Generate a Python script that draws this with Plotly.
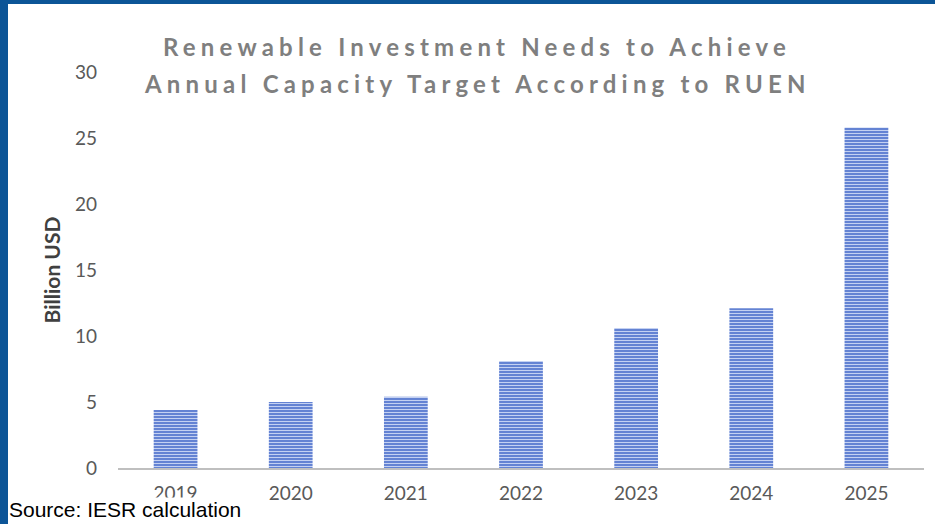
import plotly.graph_objects as go

years = ["2019", "2020", "2021", "2022", "2023", "2024", "2025"]
investment = [4.4, 5.0, 5.4, 8.1, 10.6, 12.1, 25.8]
y_ticks = [0, 5, 10, 15, 20, 25, 30]
title_lines = ["Renewable Investment Needs to Achieve",
               "Annual Capacity Target According to RUEN"]
source_text = "Source: IESR calculation"

W, H = 935, 524
L, R, T, B = 118, 11, 72, 56
pw, ph = W - L - R, H - T - B

def px_x(px):
    return (px - L) / pw

def px_y(py):
    return (H - B - py) / ph

fig = go.Figure()
fig.add_trace(go.Bar(
    x=years, y=investment,
    marker=dict(
        color="#6483d3",
        line=dict(width=0),
        pattern=dict(shape="-", fgcolor="#c4d1f2", bgcolor="#6483d3",
                     size=3, solidity=0.35, fillmode="replace"),
    ),
    hoverinfo="skip",
))

annotations = []
for txt, yc in zip(title_lines, [47, 83]):
    annotations.append(dict(
        text='<span style="letter-spacing:5.2px">%s</span>' % txt,
        xref="paper", yref="paper",
        x=px_x(477), y=px_y(yc), xanchor="center", yanchor="middle",
        showarrow=False, align="center",
        font=dict(family="Lato", size=24, color="#7f7f7f", weight="bold")))
annotations.append(dict(
    text=source_text, xref="paper", yref="paper",
    x=px_x(8), y=px_y(509), xanchor="left", yanchor="middle",
    showarrow=False, bgcolor="white", borderpad=0,
    font=dict(family="Liberation Sans", size=21, color="black")))

fig.update_layout(
    width=W, height=H,
    margin=dict(l=L, r=R, t=T, b=B, autoexpand=False),
    paper_bgcolor="white", plot_bgcolor="white",
    bargap=0.62,
    showlegend=False,
    font=dict(family="Lato", color="#595959"),
    xaxis=dict(
        showline=True, linecolor="#bfbfbf", linewidth=2,
        showgrid=False, ticks="", tickfont=dict(size=19, color="#595959"),
        ticklabelstandoff=7, fixedrange=True,
    ),
    yaxis=dict(
        range=[0, 30], tickvals=y_ticks, showgrid=False, zeroline=False,
        showline=False, ticks="", tickfont=dict(size=19, color="#595959"),
        ticklabelstandoff=20, automargin=False,
        title=dict(text="<b>Billion USD</b>", font=dict(size=21, color="#404040"), standoff=8),
    ),
    shapes=[
        dict(type="rect", xref="paper", yref="paper",
             x0=px_x(0), x1=px_x(8), y0=px_y(H), y1=px_y(0),
             fillcolor="#0c5597", line=dict(width=0), layer="above"),
        dict(type="rect", xref="paper", yref="paper",
             x0=px_x(0), x1=px_x(W), y0=px_y(4), y1=px_y(0),
             fillcolor="#0c5597", line=dict(width=0), layer="above"),
    ],
    annotations=annotations,
)

fig.write_html("out.html", config={"displayModeBar": False},
               post_script="document.body.style.margin='0';document.body.style.overflow='hidden';")
